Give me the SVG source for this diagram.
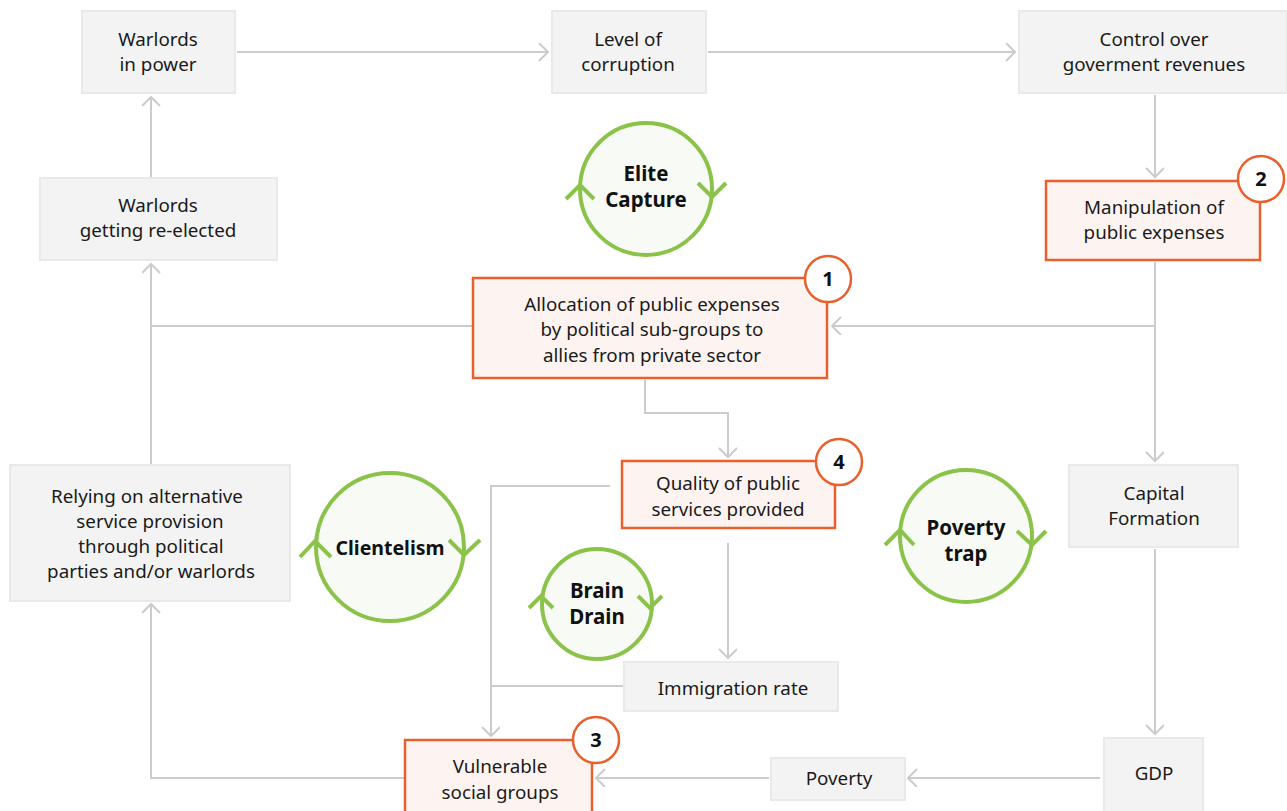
<svg xmlns="http://www.w3.org/2000/svg" width="1287" height="811" viewBox="0 0 1287 811">
<style>
.box{fill:#f3f3f3;stroke:#e9e9e9;stroke-width:2}
.obox{fill:#fdf4f2;stroke:#e8602c;stroke-width:2.5}
.badge{fill:#ffffff;stroke:#e8602c;stroke-width:2.5}
.bnum{font-family:"Noto Sans",sans-serif;font-weight:bold;font-size:20px;fill:#111;text-anchor:middle}
.t{font-family:"Noto Sans",sans-serif;font-size:18.8px;fill:#1a1a1a;text-anchor:middle}
.loop{fill:#f8fbf5;stroke:#8bc34a;stroke-width:4}
.chev{fill:none;stroke:#8bc34a;stroke-width:4}
.lt{font-family:"Noto Sans",sans-serif;font-weight:bold;font-size:20.5px;fill:#111;text-anchor:middle}
.c{fill:none;stroke:#cccccc;stroke-width:2}
</style>
<defs>
<marker id="arr" markerUnits="userSpaceOnUse" markerWidth="20" markerHeight="20" viewBox="0 0 20 20" refX="10" refY="9" orient="auto">
<path d="M1,0 L10,9 L1,18" fill="none" stroke="#cccccc" stroke-width="2"/>
</marker>
</defs>
<g id="connectors">
<path class="c" d="M237,52 H548" marker-end="url(#arr)"/>
<path class="c" d="M708,52 H1015" marker-end="url(#arr)"/>
<path class="c" d="M1155,95 V177" marker-end="url(#arr)"/>
<path class="c" d="M1155,262 V461" marker-end="url(#arr)"/>
<path class="c" d="M1155,326 H832" marker-end="url(#arr)"/>
<path class="c" d="M472,326 H151"/>
<path class="c" d="M151,465 V264" marker-end="url(#arr)"/>
<path class="c" d="M151,177 V97" marker-end="url(#arr)"/>
<path class="c" d="M645,380 V413 H728 V457" marker-end="url(#arr)"/>
<path class="c" d="M610,486 H491 V736" marker-end="url(#arr)"/>
<path class="c" d="M728,543 V658" marker-end="url(#arr)"/>
<path class="c" d="M624,686 H491"/>
<path class="c" d="M1155,549 V734" marker-end="url(#arr)"/>
<path class="c" d="M1100,778 H908" marker-end="url(#arr)"/>
<path class="c" d="M769,778 H596" marker-end="url(#arr)"/>
<path class="c" d="M405,778 H151 V604" marker-end="url(#arr)"/>
</g>
<g id="warlords-in-power">
<rect class="box" x="82" y="11" width="153" height="82"/>
<text class="t" x="158" y="46">Warlords</text>
<text class="t" x="158" y="71">in power</text>
</g>
<g id="level-of-corruption">
<rect class="box" x="552" y="11" width="154" height="82"/>
<text class="t" x="628" y="46">Level of</text>
<text class="t" x="628" y="71">corruption</text>
</g>
<g id="control-revenues">
<rect class="box" x="1019" y="11" width="268" height="82"/>
<text class="t" x="1154" y="46">Control over</text>
<text class="t" x="1154" y="71">goverment revenues</text>
</g>
<g id="warlords-reelected">
<rect class="box" x="40" y="178" width="237" height="82"/>
<text class="t" x="158" y="212">Warlords</text>
<text class="t" x="158" y="237">getting re-elected</text>
</g>
<g id="manipulation">
<rect class="obox" x="1046" y="181" width="214" height="79"/>
<text class="t" x="1154" y="214">Manipulation of</text>
<text class="t" x="1154" y="239">public expenses</text>
<circle class="badge" cx="1261" cy="179" r="23"/>
<text class="bnum" x="1261" y="186">2</text>
</g>
<g id="allocation">
<rect class="obox" x="473" y="278" width="354" height="100"/>
<text class="t" x="652" y="311">Allocation of public expenses</text>
<text class="t" x="652" y="336">by political sub-groups to</text>
<text class="t" x="652" y="362">allies from private sector</text>
<circle class="badge" cx="828" cy="279" r="23"/>
<text class="bnum" x="828" y="286">1</text>
</g>
<g id="relying">
<rect class="box" x="10" y="465" width="280" height="136"/>
<text class="t" x="147" y="503">Relying on alternative</text>
<text class="t" x="150" y="528">service provision</text>
<text class="t" x="151" y="553">through political</text>
<text class="t" x="151" y="578">parties and/or warlords</text>
</g>
<g id="quality">
<rect class="obox" x="622" y="461" width="213" height="67"/>
<text class="t" x="728" y="490">Quality of public</text>
<text class="t" x="728" y="516">services provided</text>
<circle class="badge" cx="839" cy="462" r="23"/>
<text class="bnum" x="839" y="469">4</text>
</g>
<g id="capital-formation">
<rect class="box" x="1069" y="465" width="169" height="82"/>
<text class="t" x="1154" y="500">Capital</text>
<text class="t" x="1154" y="525">Formation</text>
</g>
<g id="immigration">
<rect class="box" x="624" y="662" width="214" height="49"/>
<text class="t" x="733" y="695">Immigration rate</text>
</g>
<g id="vulnerable">
<rect class="obox" x="405" y="740" width="187" height="80"/>
<text class="t" x="500" y="773">Vulnerable</text>
<text class="t" x="500" y="799">social groups</text>
<circle class="badge" cx="596" cy="740" r="23"/>
<text class="bnum" x="596" y="747">3</text>
</g>
<g id="poverty">
<rect class="box" x="771" y="758" width="134" height="42"/>
<text class="t" x="839" y="785">Poverty</text>
</g>
<g id="gdp">
<rect class="box" x="1104" y="738" width="99" height="80"/>
<text class="t" x="1154" y="780">GDP</text>
</g>
<g id="loop-elite-capture">
<circle class="loop" cx="646" cy="189" r="66"/>
<polyline class="chev" points="566,199 580,185 594,199"/>
<polyline class="chev" points="698,183 712,197 726,183"/>
<text class="lt" x="646" y="181">Elite</text>
<text class="lt" x="646" y="207">Capture</text>
</g>
<g id="loop-clientelism">
<circle class="loop" cx="390" cy="547" r="74"/>
<polyline class="chev" points="300,557 315,541 331,557"/>
<polyline class="chev" points="449,540 464,555 480,540"/>
<text class="lt" x="390" y="555" style="font-size:19.5px">Clientelism</text>
</g>
<g id="loop-brain-drain">
<circle class="loop" cx="597" cy="604" r="55"/>
<polyline class="chev" points="529,608 541,596 553,608"/>
<polyline class="chev" points="638,596 650,608 662,596"/>
<text class="lt" x="597" y="598">Brain</text>
<text class="lt" x="597" y="624">Drain</text>
</g>
<g id="loop-poverty-trap">
<circle class="loop" cx="966" cy="536" r="66"/>
<polyline class="chev" points="885,545 900,530 914,545"/>
<polyline class="chev" points="1017,531 1032,545 1046,531"/>
<text class="lt" x="966" y="535">Poverty</text>
<text class="lt" x="966" y="561">trap</text>
</g>
</svg>
